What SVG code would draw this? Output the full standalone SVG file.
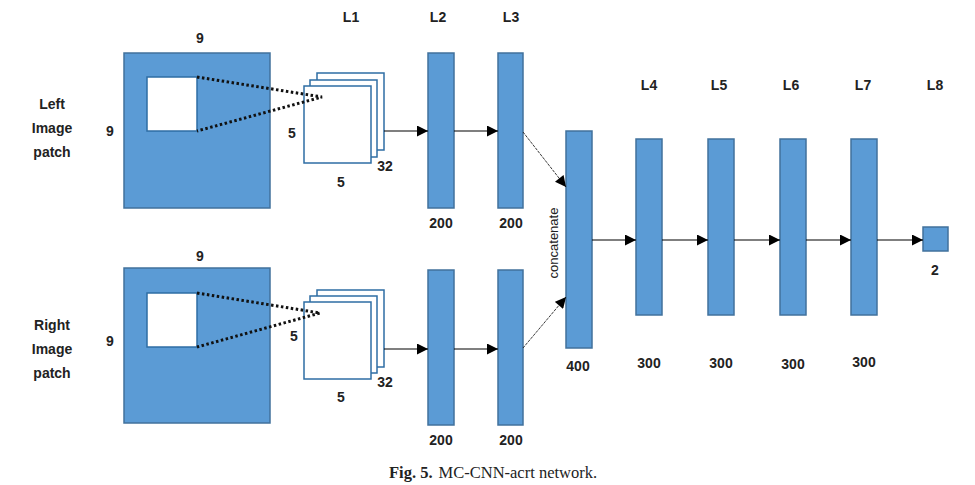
<svg xmlns="http://www.w3.org/2000/svg" width="975" height="485" viewBox="0 0 975 485">
<defs>
<style>
.blue{fill:#5B9BD5;stroke:#41719C;stroke-width:1.5}
.white{fill:#fff;stroke:#2E6DA4;stroke-width:1.5}
.lbl{font-family:"Liberation Sans",Arial,sans-serif;font-weight:bold;font-size:14px;fill:#222;text-anchor:middle}
.dot{stroke:#111;stroke-width:3;stroke-dasharray:2.5 2.5;fill:none}
.conn{stroke:#000;stroke-width:1.1;fill:none}
.thin{stroke:#222;stroke-width:0.9;fill:none;stroke-dasharray:3 1}
.cap{font-family:"Liberation Serif","Times New Roman",serif;font-size:16.5px;fill:#222}
</style>
<marker id="ah" viewBox="0 0 10 10" refX="10" refY="5" markerWidth="12" markerHeight="11" markerUnits="userSpaceOnUse" orient="auto"><path d="M0,0 L10,5 L0,10 z" fill="#000"/></marker>
</defs>
<rect width="975" height="485" fill="#fff"/>

<g id="headers">
<text class="lbl" x="351" y="22">L1</text>
<text class="lbl" x="438" y="22">L2</text>
<text class="lbl" x="511" y="22">L3</text>
<text class="lbl" x="649" y="90">L4</text>
<text class="lbl" x="719" y="90">L5</text>
<text class="lbl" x="791" y="90">L6</text>
<text class="lbl" x="863" y="90">L7</text>
<text class="lbl" x="935" y="90">L8</text>
</g>

<g id="left-patch">
<text class="lbl" x="52" y="109">Left</text>
<text class="lbl" x="52" y="133">Image</text>
<text class="lbl" x="52" y="157">patch</text>
<text class="lbl" x="200" y="43">9</text>
<text class="lbl" x="110" y="136">9</text>
<rect class="blue" x="124" y="53" width="146" height="155"/>
<rect class="white" x="147" y="77" width="50" height="54"/>
</g>

<g id="left-l1">
<rect class="white" x="317" y="73" width="67" height="77"/>
<rect class="white" x="310" y="80" width="67" height="77"/>
<rect class="white" x="304" y="86" width="67" height="77"/>
<text class="lbl" x="292" y="138">5</text>
<text class="lbl" x="341" y="187">5</text>
<text class="lbl" x="385" y="171">32</text>
</g>

<g id="right-patch">
<text class="lbl" x="52" y="330">Right</text>
<text class="lbl" x="52" y="354">Image</text>
<text class="lbl" x="52" y="378">patch</text>
<text class="lbl" x="200" y="261">9</text>
<text class="lbl" x="110" y="346">9</text>
<rect class="blue" x="124" y="268" width="146" height="155"/>
<rect class="white" x="147" y="293" width="50" height="54"/>
</g>

<g id="right-l1">
<rect class="white" x="317" y="290" width="67" height="77"/>
<rect class="white" x="310" y="296" width="67" height="77"/>
<rect class="white" x="304" y="302" width="67" height="77"/>
<text class="lbl" x="294" y="341">5</text>
<text class="lbl" x="341" y="402">5</text>
<text class="lbl" x="385" y="387">32</text>
</g>

<g id="l2-top"><rect class="blue" x="428" y="53" width="26" height="155"/><text class="lbl" x="441" y="228">200</text></g>
<g id="l3-top"><rect class="blue" x="498" y="53" width="25" height="155"/><text class="lbl" x="511" y="228">200</text></g>
<g id="l2-bot"><rect class="blue" x="428" y="270" width="26" height="155"/><text class="lbl" x="441" y="445">200</text></g>
<g id="l3-bot"><rect class="blue" x="498" y="270" width="25" height="155"/><text class="lbl" x="511" y="445">200</text></g>

<g id="concat">
<rect class="blue" x="566" y="131" width="26" height="217"/>
<text class="lbl" x="578" y="371">400</text>
<text x="0" y="0" transform="translate(558,243) rotate(-90)" font-family="'Liberation Sans',Arial,sans-serif" font-size="13" fill="#222" text-anchor="middle">concatenate</text>
</g>

<g id="l4"><rect class="blue" x="636" y="139" width="26" height="176"/><text class="lbl" x="649" y="368">300</text></g>
<g id="l5"><rect class="blue" x="708" y="139" width="26" height="176"/><text class="lbl" x="721" y="368">300</text></g>
<g id="l6"><rect class="blue" x="780" y="139" width="26" height="176"/><text class="lbl" x="793" y="369">300</text></g>
<g id="l7"><rect class="blue" x="851" y="139" width="26" height="176"/><text class="lbl" x="864" y="367">300</text></g>
<g id="l8"><rect class="blue" x="923" y="227" width="25" height="24"/><text class="lbl" x="935" y="275">2</text></g>

<g id="connectors">
<path class="dot" d="M197,77 L322,97 L197,131"/>
<path class="dot" d="M197,293 L320,313 L197,347"/>
<path class="conn" d="M384,131 L428,131" marker-end="url(#ah)"/>
<path class="conn" d="M454,131 L498,131" marker-end="url(#ah)"/>
<path class="conn" d="M384,349 L428,349" marker-end="url(#ah)"/>
<path class="conn" d="M454,349 L498,349" marker-end="url(#ah)"/>
<path class="thin" d="M523,132 L566,187" marker-end="url(#ah)"/>
<path class="thin" d="M523,348 L566,297" marker-end="url(#ah)"/>
<path class="conn" d="M592,240 L636,240" marker-end="url(#ah)"/>
<path class="conn" d="M662,240 L708,240" marker-end="url(#ah)"/>
<path class="conn" d="M734,240 L780,240" marker-end="url(#ah)"/>
<path class="conn" d="M806,240 L851,240" marker-end="url(#ah)"/>
<path class="conn" d="M877,240 L923,240" marker-end="url(#ah)"/>
</g>

<g id="caption">
<text class="cap" x="389" y="478"><tspan font-weight="bold">Fig. 5.</tspan><tspan dx="6">MC-CNN-acrt network.</tspan></text>
</g>
</svg>
